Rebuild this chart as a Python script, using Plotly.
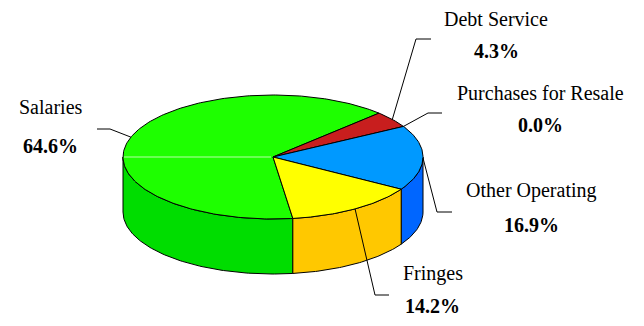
import numpy as np
import plotly.graph_objects as go

# ---- data ----
categories = ["Salaries", "Debt Service", "Purchases for Resale", "Other Operating", "Fringes"]
values = [64.6, 4.3, 0.0, 16.9, 14.2]
pct_labels = ["64.6%", "4.3%", "0.0%", "16.9%", "14.2%"]

# ---- styles / layout ----
top_colors = ["#1EFF00", "#C81E1E", "#FF00FF", "#0099FF", "#FFFF00"]
side_colors = ["#00DD00", "#A01818", "#CC00CC", "#0066FF", "#FFC800"]
START_DEG = 172.4          # clockwise from 12 o'clock, where first slice begins
CX, CY, RX, RY, DEPTH = 273, 157, 150, 62, 55
W, H = 644, 326
FONT = "Liberation Serif, Times New Roman, serif"

# label placement: (name_xy, pct_xy, elbow_xy, end_x)
label_pos = {
    "Salaries": ((51, 107), (50, 146), (110, 129), 97),
    "Debt Service": ((496, 19), (496, 51), (416, 39), 431),
    "Purchases for Resale": ((540, 93), (540, 125), (428, 113), 442),
    "Other Operating": ((531, 190), (531, 225), (437, 212), 452),
    "Fringes": ((433, 273), (432, 306), (375, 295), 389),
}


def pt(theta_deg, dz=0.0):
    t = np.radians(theta_deg)
    return CX + RX * np.sin(t), CY - RY * np.cos(t) + dz


def arc(a0, a1, dz=0.0, n=None):
    if n is None:
        n = max(2, int(abs(a1 - a0) / 1.0) + 2)
    th = np.linspace(a0, a1, n)
    x, y = pt(th, dz)
    return list(x), list(y)


total = sum(values)
angles = []
a = START_DEG
for v in values:
    span = 360.0 * v / total
    angles.append((a, a + span))
    a += span

fig = go.Figure()

# ---- side walls (front-facing part: 90..270 deg) ----
for i, (a0, a1) in enumerate(angles):
    if a1 - a0 <= 0:
        continue
    for k in range(-1, 3):
        lo, hi = 90 + 360 * k, 270 + 360 * k
        s, e = max(a0, lo), min(a1, hi)
        if e - s > 0.01:
            tx, ty = arc(s, e)
            bx, by = arc(e, s, DEPTH)
            fig.add_trace(go.Scatter(
                x=tx + bx + [tx[0]], y=ty + by + [ty[0]],
                mode="lines", fill="toself", fillcolor=side_colors[i],
                line=dict(color="black", width=1), hoverinfo="skip"))

# ---- top faces ----
for i, (a0, a1) in enumerate(angles):
    if a1 - a0 <= 0:
        continue
    ax_, ay_ = arc(a0, a1)
    fig.add_trace(go.Scatter(
        x=[CX] + ax_ + [CX], y=[CY] + ay_ + [CY],
        mode="lines", fill="toself", fillcolor=top_colors[i],
        line=dict(color="black", width=1), hoverinfo="skip"))

# faint highlight line on the top face
lx, ly = pt(270)
fig.add_trace(go.Scatter(x=[CX - 2, lx + 1], y=[CY, ly], mode="lines",
                         line=dict(color="rgba(220,255,210,0.8)", width=1),
                         hoverinfo="skip"))

# ---- leader lines and labels ----
annotations = []
for i, name in enumerate(categories):
    a0, a1 = angles[i]
    mx, my = pt((a0 + a1) / 2.0)
    (nx, ny), (px, py), (ex, ey), endx = label_pos[name]
    fig.add_trace(go.Scatter(x=[mx, ex, endx], y=[my, ey, ey], mode="lines",
                             line=dict(color="black", width=1), hoverinfo="skip"))
    annotations.append(dict(x=nx, y=ny, text=name, showarrow=False,
                            xanchor="center", yanchor="middle",
                            font=dict(family=FONT, size=20, color="black")))
    annotations.append(dict(x=px, y=py, text="<b>%s</b>" % pct_labels[i], showarrow=False,
                            xanchor="center", yanchor="middle",
                            font=dict(family=FONT, size=20, color="black")))

fig.update_layout(
    width=W, height=H, autosize=False,
    margin=dict(l=0, r=0, t=0, b=0),
    paper_bgcolor="white", plot_bgcolor="white",
    showlegend=False,
    xaxis=dict(range=[0, W], visible=False, fixedrange=True),
    yaxis=dict(range=[H, 0], visible=False, fixedrange=True),
    annotations=annotations,
)

fig.write_html("out.html")
